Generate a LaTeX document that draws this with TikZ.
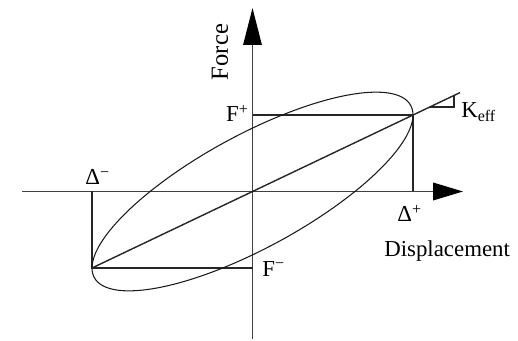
\documentclass[tikz,border=0pt]{standalone}
\usepackage{fontspec}
\setmainfont{Liberation Serif}
\usetikzlibrary{arrows.meta}

\begin{document}
\begin{tikzpicture}[x=0.02cm, y=-0.02cm,
  every node/.style={font=\fontsize{13}{15}\selectfont, inner sep=0pt},
  axis/.style={line width=0.9pt, black!75},
  guide/.style={line width=0.8pt, black!85},
  loop/.style={line width=0.6pt, black!90}]
  \useasboundingbox (0,0) rectangle (518,341);

  % axes
  \coordinate (O)  at (252.5,191.5);
  \coordinate (xl) at (22,191.5);
  \coordinate (xr) at (463,191.5);
  \coordinate (yb) at (252.5,339);
  \coordinate (yt) at (252.5,8);
  \draw[axis, -{Triangle[length=17pt,width=10pt,color=black]}] (xl) -- (xr);
  \draw[axis, -{Triangle[length=21pt,width=10.5pt,color=black]}] (yb) -- (yt);

  % peak points
  \coordinate (P) at (413,115);
  \coordinate (Q) at (92,268);
  \draw[guide] (P |- O) -- (P) -- (P -| O);
  \draw[guide] (Q |- O) -- (Q) -- (Q -| O);

  % hysteresis loop
  \draw[loop] plot[domain=0:360, samples=121, smooth]
    ({252.5+160.5*cos(\x)}, {191.5-76.5*cos(\x)-63.4*sin(\x)});

  % effective stiffness
  \coordinate (kE) at (460,92.6);
  \draw[guide] (Q) -- (kE);
  \coordinate (t1) at (429.8,107);
  \coordinate (t2) at (454,107);
  \coordinate (t3) at (454,95.5);
  \draw[guide, line width=0.6pt] (t1) -- (t2) -- (t3);

  % labels
  \node[rotate=90, font=\fontsize{14}{16}\selectfont] (force) at (220,52) {Force};
  \node[anchor=base west] (disp) at (384,256) {Displacement};
  \node[anchor=base east] (fp) at (249,122) {F\textsuperscript{+}};
  \node[anchor=base west] (fm) at (262,276) {F\textsuperscript{−}};
  \node[anchor=base west] (dp) at (397,222) {Δ\textsuperscript{+}};
  \node[anchor=base west] (dm) at (85,185) {Δ\textsuperscript{−}};
  \node[anchor=base west] (keff) at (461,118) {K\textsubscript{eff}};
\end{tikzpicture}
\end{document}
